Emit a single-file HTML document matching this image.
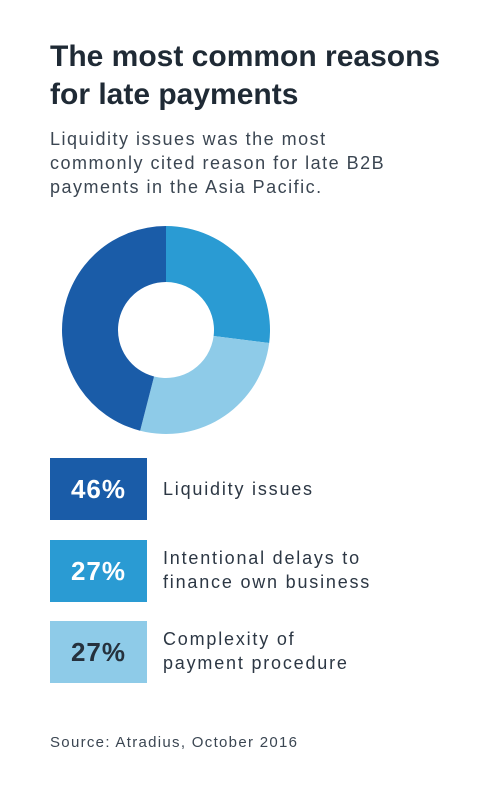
<!DOCTYPE html>
<html><head><meta charset="utf-8"><style>
body{margin:0;width:500px;height:802px;background:#fff;font-family:"Liberation Sans",sans-serif;color:#25313d;position:relative;overflow:hidden}
.t{position:absolute;left:50px;top:38px;font-size:30px;font-weight:bold;line-height:38px;letter-spacing:0;color:#1f2a35}
.s{position:absolute;left:50px;top:127px;font-size:18px;line-height:24px;letter-spacing:1.5px;color:#3b4652;width:440px}
.box{position:absolute;left:50px;width:97px;height:62px;font-size:26px;letter-spacing:1px;font-weight:bold;display:flex;align-items:center;justify-content:center}
.lab{position:absolute;left:163px;font-size:18px;line-height:24px;letter-spacing:1.8px;color:#2c3744}
.src{position:absolute;left:50px;top:734px;font-size:15px;letter-spacing:1.3px;color:#3b4652}
</style></head><body>
<div class="t">The most common reasons<br>for late payments</div>
<div class="s">Liquidity issues was the most<br>commonly cited reason for late B2B<br>payments in the Asia Pacific.</div>
<svg id="donut" width="500" height="802" style="position:absolute;left:0;top:0"></svg>
<div class="box" style="top:458px;background:#1a5ca8;color:#fff">46%</div>
<div class="lab" style="top:477px">Liquidity issues</div>
<div class="box" style="top:540px;background:#2a9bd3;color:#fff">27%</div>
<div class="lab" style="top:546px">Intentional delays to<br>finance own business</div>
<div class="box" style="top:621px;background:#8ecbe8;color:#25313d">27%</div>
<div class="lab" style="top:627px">Complexity of<br>payment procedure</div>
<div class="src">Source: Atradius, October 2016</div>
<script>
const categories=["Intentional delays","Complexity","Liquidity issues"];
const values=[27,27,46];
const colors=["#2a9bd3","#8ecbe8","#1a5ca8"];
const svg=document.getElementById('donut');
const cx=166,cy=330,R=104,r=48;
const total=values.reduce((a,b)=>a+b,0);
let a0=0;
function pt(rad,a){return [cx+rad*Math.sin(a),cy-rad*Math.cos(a)];}
values.forEach((v,i)=>{
 const a1=a0+v/total*2*Math.PI;
 const large=(a1-a0)>Math.PI?1:0;
 const [x0,y0]=pt(R,a0),[x1,y1]=pt(R,a1),[x2,y2]=pt(r,a1),[x3,y3]=pt(r,a0);
 const p=document.createElementNS('http://www.w3.org/2000/svg','path');
 p.setAttribute('d',`M${x0},${y0}A${R},${R} 0 ${large} 1 ${x1},${y1}L${x2},${y2}A${r},${r} 0 ${large} 0 ${x3},${y3}Z`);
 p.setAttribute('fill',colors[i]);
 
 
 svg.appendChild(p);
 a0=a1;
});
</script>
</body></html>
